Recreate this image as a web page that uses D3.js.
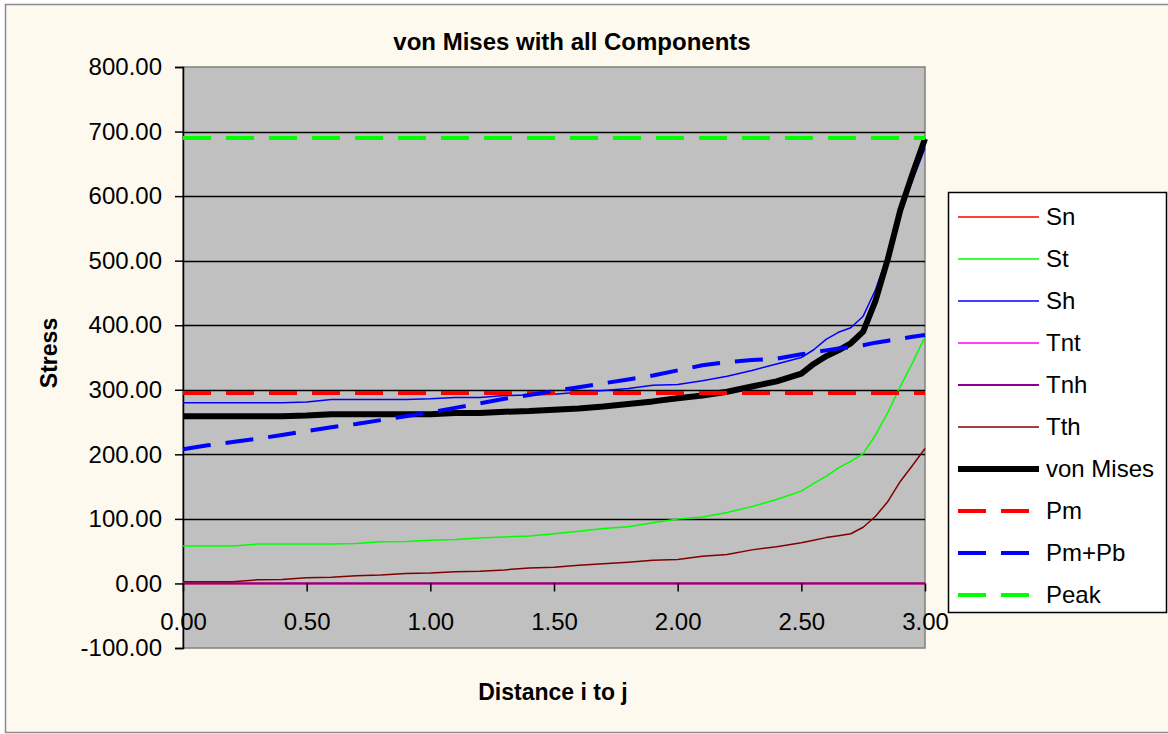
<!DOCTYPE html>
<html>
<head>
<meta charset="utf-8">
<script src="https://cdn.jsdelivr.net/npm/d3@7"></script>
<style>
  body { margin: 0; background: #ffffff; }
  svg text { font-family: Arial, "Liberation Sans", sans-serif; fill: #000; }
</style>
</head>
<body>
<svg id="chart" width="1168" height="734"></svg>
<script>
// distance i to j (shared x values for every series)
var distance = [0, 0.1, 0.2, 0.3, 0.4, 0.5, 0.6, 0.7, 0.8, 0.9, 1.0, 1.1, 1.2, 1.3, 1.4, 1.5, 1.6, 1.7, 1.8, 1.9,
    2.0, 2.1, 2.2, 2.3, 2.4, 2.5, 2.55, 2.6, 2.65, 2.7, 2.75, 2.8, 2.85, 2.9, 2.95, 3.0]

var sn = [0, 0, 0, 0, 0, 0, 0, 0, 0, 0, 0, 0, 0, 0, 0, 0, 0, 0, 0, 0,
    0, 0, 0, 0, 0, 0, 0, 0, 0, 0, 0, 0, 0, 0, 0, 0]
var st = [58, 58, 58, 61, 61, 61, 61, 62, 64.5, 65, 67, 68, 70.5, 72, 73.5, 77, 81, 85, 88, 94,
    100, 103, 110, 119, 130, 143, 155, 166, 179, 189, 201, 230, 265, 305, 342, 382]
var sh = [280, 280, 280, 280, 280, 281, 285, 285, 285, 285, 286, 288, 288, 291, 292, 293, 296, 299, 302, 307,
    308, 314, 321, 330, 340, 350, 362, 378, 389, 396, 414, 455, 510, 575, 625, 674]
var tnt = [0, 0, 0, 0, 0, 0, 0, 0, 0, 0, 0, 0, 0, 0, 0, 0, 0, 0, 0, 0,
    0, 0, 0, 0, 0, 0, 0, 0, 0, 0, 0, 0, 0, 0, 0, 0]
var tnh = [0, 0, 0, 0, 0, 0, 0, 0, 0, 0, 0, 0, 0, 0, 0, 0, 0, 0, 0, 0,
    0, 0, 0, 0, 0, 0, 0, 0, 0, 0, 0, 0, 0, 0, 0, 0]
var tth = [2.5, 2.5, 2.5, 5.6, 6, 9, 9.5, 12, 13, 15.5, 16, 18, 19, 21, 24, 25, 28, 30.5, 33, 36,
    37, 42, 45, 52, 57, 63, 67, 71, 74, 77, 87, 104, 127, 158, 183, 209]
var vonMises = [259, 259, 259, 259, 259, 260, 262, 262, 262, 262, 262, 264, 264, 266, 267, 269, 271, 274, 278, 282,
    287, 291, 297, 305, 313, 325, 340, 352, 361, 372, 390, 438, 503, 578, 635, 689]
var pm = [295, 295, 295, 295, 295, 295, 295, 295, 295, 295, 295, 295, 295, 295, 295, 295, 295, 295, 295, 295,
    295, 295, 295, 295, 295, 295, 295, 295, 295, 295, 295, 295, 295, 295, 295, 295]
var pmPb = [208, 214, 219, 224, 230, 236, 242, 247, 253, 259, 265, 272, 279, 286, 292, 298, 304, 310, 316, 322,
    330, 338, 343, 346, 348, 355, 358, 361, 364, 366, 369, 373, 376, 379, 382, 385]
var peak = [690, 690, 690, 690, 690, 690, 690, 690, 690, 690, 690, 690, 690, 690, 690, 690, 690, 690, 690, 690,
    690, 690, 690, 690, 690, 690, 690, 690, 690, 690, 690, 690, 690, 690, 690, 690]

var xTicks = [0, 0.5, 1.0, 1.5, 2.0, 2.5, 3.0]
var yTicks = [-100, 0, 100, 200, 300, 400, 500, 600, 700, 800]

var series = [
    {name: "Sn", values: sn, color: "#ff0000", width: 1.5, dash: null},
    {name: "St", values: st, color: "#00ff00", width: 1.5, dash: null},
    {name: "Sh", values: sh, color: "#0000ff", width: 1.5, dash: null},
    {name: "Tnt", values: tnt, color: "#ff00ff", width: 1.5, dash: null},
    {name: "Tnh", values: tnh, color: "#8c008c", width: 1.8, dash: null},
    {name: "Tth", values: tth, color: "#800000", width: 1.5, dash: null},
    {name: "von Mises", values: vonMises, color: "#000000", width: 6, dash: null},
    {name: "Pm", values: pm, color: "#ff0000", width: 4, dash: "28,15"},
    {name: "Pm+Pb", values: pmPb, color: "#0000ff", width: 4, dash: "28,15"},
    {name: "Peak", values: peak, color: "#00ff00", width: 4, dash: "28,15"}
]

// excel style numbers, plain hyphen for negatives
var fmt = function(d) { return d.toFixed(2) }

var svg = d3.select("#chart")

// chart area frame
svg.append("rect")
    .attr("x", 5.5).attr("y", 4.5)
    .attr("width", 1180).attr("height", 728)
    .attr("fill", "#fef9ef")
    .attr("stroke", "#8c8c8c")
    .attr("stroke-width", 1.5)

var x = d3.scaleLinear().domain([0, 3]).range([183, 925])
var y = d3.scaleLinear().domain([-100, 800]).range([648, 67])

// plot area
svg.append("rect")
    .attr("x", x(0)).attr("y", y(800))
    .attr("width", x(3) - x(0)).attr("height", y(-100) - y(800))
    .attr("fill", "#c0c0c0")
    .attr("stroke", "#808080")
    .attr("stroke-width", 1.5)

// gridlines
svg.append("g")
    .selectAll("line")
    .data(yTicks.filter(function(d) { return d > -100 && d < 800 }))
    .enter().append("line")
    .attr("x1", x(0)).attr("x2", x(3))
    .attr("y1", function(d) { return Math.round(y(d)) + 0.5 })
    .attr("y2", function(d) { return Math.round(y(d)) + 0.5 })
    .attr("stroke", "#000")
    .attr("stroke-width", 1.3)

// y axis
var yAxis = svg.append("g")
    .attr("transform", "translate(" + x(0) + ",0)")
    .call(d3.axisLeft(y).tickValues(yTicks).tickSize(8).tickPadding(13).tickFormat(fmt))
yAxis.select(".domain").attr("stroke", "#000").attr("stroke-width", 1.5)
yAxis.selectAll(".tick line").attr("stroke", "#000").attr("stroke-width", 1.5)
yAxis.selectAll("text").style("font-size", "24px").attr("fill", "#000")

// series lines
var line = d3.line()
    .x(function(d, i) { return x(distance[i]) })
    .y(function(d) { return y(d) })

svg.append("g")
    .selectAll("path")
    .data(series)
    .enter().append("path")
    .attr("d", function(s) { return line(s.values) })
    .attr("fill", "none")
    .attr("stroke", function(s) { return s.color })
    .attr("stroke-width", function(s) { return s.width })
    .attr("stroke-dasharray", function(s) { return s.dash })
    .attr("stroke-linejoin", "round")

// x axis sits on y = 0
var xAxis = svg.append("g")
    .attr("transform", "translate(0," + y(0) + ")")
    .call(d3.axisBottom(x).tickValues(xTicks).tickSize(8).tickPadding(22).tickFormat(fmt))
xAxis.select(".domain").remove()
xAxis.selectAll(".tick line").attr("stroke", "#000").attr("stroke-width", 1.5)
xAxis.selectAll("text").style("font-size", "24px").attr("fill", "#000")

// titles
svg.append("text")
    .attr("x", 572).attr("y", 50)
    .attr("text-anchor", "middle")
    .style("font-size", "24px").style("font-weight", "bold")
    .text("von Mises with all Components")

svg.append("text")
    .attr("x", 553).attr("y", 700)
    .attr("text-anchor", "middle")
    .style("font-size", "23px").style("font-weight", "bold")
    .text("Distance i to j")

svg.append("text")
    .attr("transform", "translate(57,353) rotate(-90)")
    .attr("text-anchor", "middle")
    .style("font-size", "23px").style("font-weight", "bold")
    .text("Stress")

// legend
var legend = svg.append("g")
legend.append("rect")
    .attr("x", 948.5).attr("y", 192.5)
    .attr("width", 218).attr("height", 420)
    .attr("fill", "#fff")
    .attr("stroke", "#000")
    .attr("stroke-width", 1.5)

var item = legend.selectAll(".item")
    .data(series)
    .enter().append("g")
    .attr("class", "item")
    .attr("transform", function(s, i) { return "translate(0," + (217 + i * 42) + ")" })

item.append("line")
    .attr("x1", 958).attr("x2", 1039)
    .attr("y1", 0).attr("y2", 0)
    .attr("stroke", function(s) { return s.color })
    .attr("stroke-width", function(s) { return s.width })
    .attr("stroke-dasharray", function(s) { return s.dash })

item.append("text")
    .attr("x", 1046).attr("y", 0)
    .attr("dy", "0.35em")
    .style("font-size", "24px")
    .text(function(s) { return s.name })
</script>
</body>
</html>
